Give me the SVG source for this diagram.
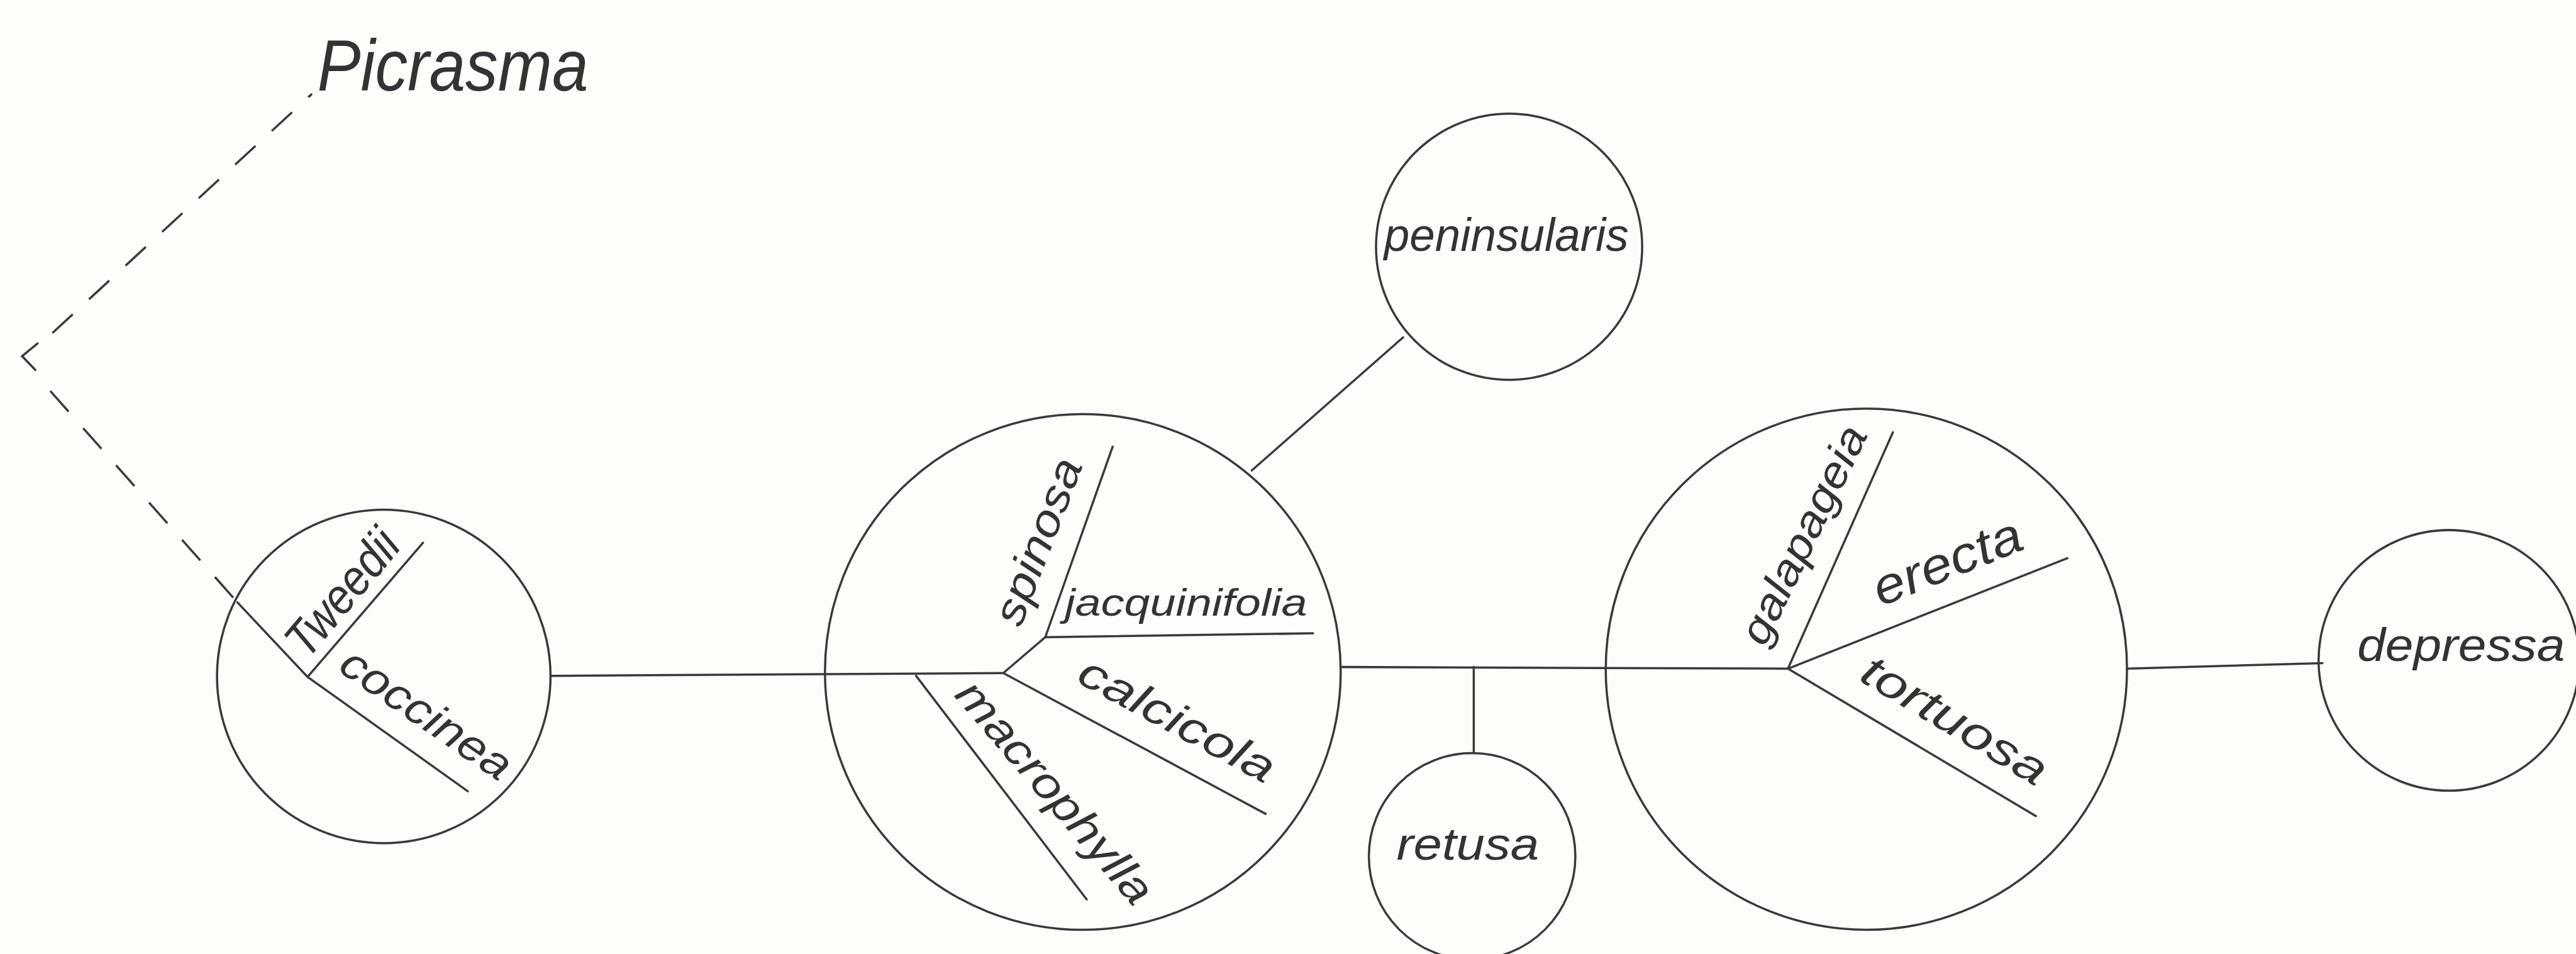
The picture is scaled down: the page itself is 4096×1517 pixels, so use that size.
<svg xmlns="http://www.w3.org/2000/svg" width="4096" height="1517" viewBox="0 0 4096 1517">
<style>
.bg{fill:#fdfdfa}
.n{fill:none;stroke:#3a3a3a;stroke-width:4}
.c{fill:none;stroke:#3a3a3a;stroke-width:4;stroke-linecap:round}
.d{fill:none;stroke:#3a3a3a;stroke-width:4;stroke-dasharray:50 40}
.t{font-family:"Liberation Sans",Arial,sans-serif;font-style:italic;fill:#333;text-anchor:middle}
</style>
<rect class="bg" x="0" y="0" width="4096" height="1517"/>
<g transform="scale(0.878)">
<g id="connectors">
  <polyline class="c" points="68,622 40,645 64,670"/>
  <line class="d" x1="95" y1="603" x2="565" y2="170"/>
  <line class="d" x1="91" y1="708" x2="430" y2="1091"/>
  <line class="c" x1="999" y1="1224" x2="1817" y2="1219"/>
  <line class="c" x1="2429" y1="1208" x2="3238" y2="1211"/>
  <line class="c" x1="3852" y1="1211" x2="4206" y2="1201"/>
  <line class="c" x1="2669" y1="1208" x2="2669" y2="1364"/>
  <line class="c" x1="2267" y1="852" x2="2541" y2="611"/>
</g>
<g id="picrasma">
  <text class="t" x="820" y="164" font-size="130" textLength="491" lengthAdjust="spacingAndGlyphs">Picrasma</text>
</g>
<g id="node-tweedii-coccinea">
  <circle class="n" cx="695" cy="1225" r="302"/>
  <polyline class="c" points="430,1091 557,1226 847,1433"/>
  <line class="c" x1="557" y1="1226" x2="766" y2="983"/>
  <text class="t" font-size="90" textLength="269" lengthAdjust="spacingAndGlyphs" transform="translate(643,1093) rotate(-50)">Tweedii</text>
  <text class="t" font-size="80" textLength="358" lengthAdjust="spacingAndGlyphs" transform="translate(757,1315) rotate(34.5)">coccinea</text>
</g>
<g id="node-spinosa-group">
  <circle class="n" cx="1961" cy="1217" r="467"/>
  <polyline class="c" points="1817,1219 1893,1154 2378,1147"/>
  <line class="c" x1="1893" y1="1154" x2="2015" y2="809"/>
  <line class="c" x1="1817" y1="1219" x2="2292" y2="1474"/>
  <line class="c" x1="1659" y1="1224" x2="1968" y2="1629"/>
  <text class="t" font-size="80" textLength="317" lengthAdjust="spacingAndGlyphs" transform="translate(1905,990) rotate(-69)">spinosa</text>
  <text class="t" x="2148" y="1115" font-size="70" textLength="439" lengthAdjust="spacingAndGlyphs">jacquinifolia</text>
  <text class="t" font-size="80" textLength="392" lengthAdjust="spacingAndGlyphs" transform="translate(2119,1327) rotate(28.4)">calcicola</text>
  <text class="t" font-size="80" textLength="505" lengthAdjust="spacingAndGlyphs" transform="translate(1890,1452) rotate(49.6)">macrophylla</text>
</g>
<g id="node-peninsularis">
  <circle class="n" cx="2733" cy="447" r="241"/>
  <text class="t" x="2728" y="455" font-size="85" textLength="443" lengthAdjust="spacingAndGlyphs">peninsularis</text>
</g>
<g id="node-retusa">
  <circle class="n" cx="2666" cy="1551" r="187"/>
  <text class="t" x="2658" y="1557" font-size="82" textLength="258" lengthAdjust="spacingAndGlyphs">retusa</text>
</g>
<g id="node-galapageia-group">
  <circle class="n" cx="3380" cy="1212" r="472"/>
  <line class="c" x1="3238" y1="1211" x2="3428" y2="783"/>
  <line class="c" x1="3238" y1="1211" x2="3744" y2="1011"/>
  <line class="c" x1="3238" y1="1211" x2="3687" y2="1478"/>
  <text class="t" font-size="78" textLength="430" lengthAdjust="spacingAndGlyphs" transform="translate(3290,980) rotate(-64.1)">galapageia</text>
  <text class="t" font-size="92" textLength="284" lengthAdjust="spacingAndGlyphs" transform="translate(3538,1046) rotate(-21.8)">erecta</text>
  <text class="t" font-size="82" textLength="378" lengthAdjust="spacingAndGlyphs" transform="translate(3526,1328) rotate(31)">tortuosa</text>
</g>
<g id="node-depressa">
  <circle class="n" cx="4435" cy="1196" r="236"/>
  <text class="t" x="4457" y="1197" font-size="85" textLength="376" lengthAdjust="spacingAndGlyphs">depressa</text>
</g>
</g>
</svg>
